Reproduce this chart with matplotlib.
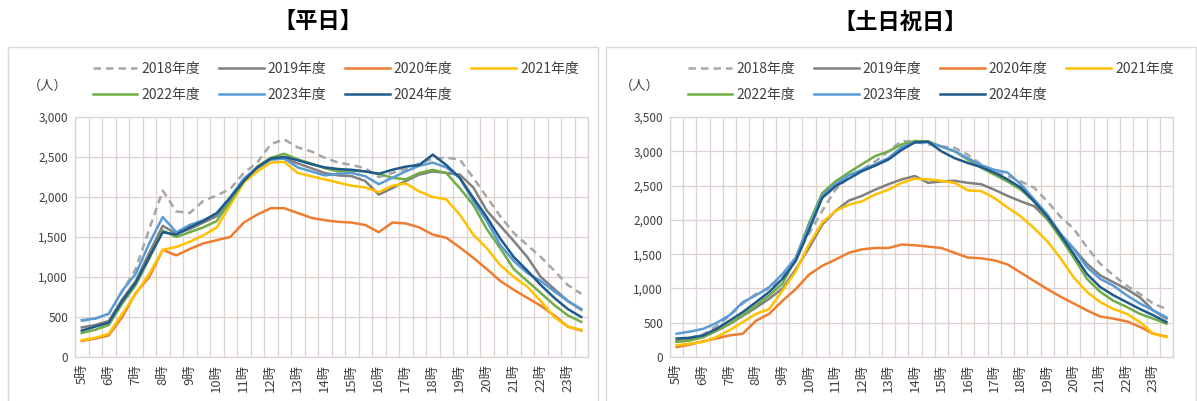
import matplotlib
matplotlib.use("Agg")
import matplotlib.pyplot as plt
from matplotlib.patches import Rectangle
import numpy as np

plt.rcParams['font.family'] = ['Noto Sans CJK JP', 'DejaVu Sans']

# half-hour slots from 5:00 to 23:30
hours = list(range(5, 24))
tick_labels = [str(h) + "時" for h in hours]
years = ["2018年度", "2019年度", "2020年度", "2021年度", "2022年度", "2023年度", "2024年度"]

# weekday (平日)
wd_2018 = [450, 480, 540, 820, 1100, 1600, 2080, 1820, 1800, 1950, 2020, 2100, 2300, 2430, 2660, 2720, 2620, 2570, 2490,
           2430, 2400, 2360, 2250, 2300, 2350, 2420, 2480, 2490, 2470, 2240, 2000, 1760, 1550, 1400, 1250, 1080, 900, 790]
wd_2019 = [370, 400, 450, 720, 950, 1300, 1640, 1540, 1600, 1680, 1760, 1980, 2200, 2360, 2470, 2480, 2420, 2360, 2300,
           2270, 2260, 2200, 2030, 2110, 2200, 2280, 2320, 2300, 2280, 2120, 1830, 1640, 1450, 1250, 1000, 850, 700, 590]
wd_2020 = [200, 230, 270, 500, 800, 1000, 1340, 1270, 1350, 1420, 1460, 1500, 1680, 1780, 1860, 1860, 1800, 1740, 1710,
           1690, 1680, 1650, 1560, 1680, 1670, 1620, 1530, 1490, 1370, 1240, 1100, 950, 840, 740, 640, 520, 380, 330]
wd_2021 = [210, 240, 290, 540, 790, 1040, 1340, 1375, 1440, 1520, 1620, 1900, 2180, 2320, 2430, 2440, 2300, 2260, 2220,
           2180, 2140, 2120, 2060, 2140, 2170, 2070, 2000, 1970, 1780, 1530, 1360, 1150, 1000, 880, 700, 500, 380, 340]
wd_2022 = [300, 340, 400, 670, 900, 1230, 1580, 1500, 1560, 1620, 1700, 1950, 2200, 2380, 2490, 2540, 2470, 2420, 2360,
           2320, 2330, 2320, 2290, 2240, 2220, 2300, 2340, 2300, 2110, 1900, 1600, 1360, 1100, 950, 800, 650, 520, 440]
wd_2023 = [460, 480, 540, 830, 1040, 1420, 1750, 1560, 1650, 1710, 1790, 2000, 2230, 2370, 2470, 2480, 2370, 2320, 2270,
           2290, 2300, 2260, 2160, 2240, 2320, 2390, 2430, 2370, 2240, 1950, 1700, 1400, 1200, 1050, 950, 820, 700, 600]
wd_2024 = [330, 380, 430, 700, 930, 1250, 1560, 1530, 1620, 1700, 1800, 1990, 2200, 2370, 2480, 2500, 2460, 2410, 2370,
           2350, 2340, 2320, 2290, 2340, 2380, 2400, 2530, 2400, 2240, 1990, 1750, 1480, 1250, 1080, 900, 740, 600, 500]

# weekend / holidays (土日祝日)
we_2018 = [250, 280, 330, 450, 600, 780, 920, 1000, 1150, 1450, 1800, 2130, 2440, 2620, 2730, 2850, 3000, 3150, 3140,
           3100, 3070, 3050, 2950, 2810, 2700, 2640, 2560, 2470, 2270, 2045, 1870, 1600, 1360, 1190, 1040, 920, 780, 700]
we_2019 = [230, 250, 290, 380, 480, 600, 720, 850, 1000, 1280, 1590, 1930, 2130, 2280, 2350, 2440, 2520, 2590, 2640,
           2540, 2560, 2570, 2540, 2520, 2440, 2350, 2270, 2200, 2010, 1790, 1580, 1360, 1190, 1090, 990, 870, 680, 560]
we_2020 = [145, 180, 230, 270, 315, 340, 530, 630, 820, 990, 1200, 1330, 1420, 1520, 1570, 1590, 1590, 1640, 1630,
           1610, 1590, 1520, 1450, 1440, 1410, 1350, 1230, 1110, 990, 880, 780, 680, 590, 560, 520, 440, 340, 300]
we_2021 = [170, 195, 220, 290, 390, 510, 630, 700, 970, 1250, 1640, 1960, 2130, 2220, 2270, 2370, 2440, 2540, 2600,
           2590, 2570, 2540, 2430, 2420, 2320, 2180, 2050, 1880, 1690, 1440, 1160, 950, 800, 700, 630, 510, 340, 290]
we_2022 = [220, 240, 290, 390, 485, 610, 750, 900, 1070, 1440, 1950, 2390, 2560, 2690, 2810, 2930, 3000, 3100, 3150,
           3145, 3070, 3000, 2880, 2760, 2660, 2560, 2440, 2270, 2010, 1740, 1450, 1140, 950, 820, 730, 630, 560, 485]
we_2023 = [340, 370, 410, 495, 610, 800, 900, 1020, 1210, 1450, 1900, 2350, 2520, 2650, 2730, 2810, 2900, 3060, 3130,
           3130, 3070, 3000, 2900, 2800, 2730, 2690, 2520, 2300, 2080, 1800, 1580, 1310, 1140, 1040, 900, 780, 680, 580]
we_2024 = [270, 280, 315, 410, 530, 655, 800, 950, 1140, 1400, 1850, 2320, 2490, 2600, 2710, 2790, 2880, 3020, 3130,
           3140, 3000, 2900, 2830, 2770, 2690, 2590, 2470, 2270, 2050, 1780, 1500, 1210, 1020, 900, 800, 700, 610, 510]

colors = ["#a6a6a6", "#808080", "#ed7d31", "#ffc000", "#70ad47", "#5b9bd5", "#1f5a8c"]
styles = [(0, (3, 2)), "-", "-", "-", "-", "-", "-"]
grid_c = "#dcd3ce"

fig = plt.figure(figsize=(11.97, 4.01), dpi=100)
W, H = 1197.0, 401.0


def px_axes(x0, x1, ytop, ybot):
    return fig.add_axes([x0 / W, (H - ybot) / H, (x1 - x0) / W, (ybot - ytop) / H])


# chart frames
for fx0, fx1 in [(8, 598), (606, 1196)]:
    fig.patches.append(Rectangle((fx0 / W, -0.05), (fx1 - fx0) / W, (H - 47) / H + 0.05,
                                 transform=fig.transFigure, fill=False, edgecolor="#d9d9d9", lw=1))

panels = [
    ("【平日】", 318, (75, 588), 3000, [wd_2018, wd_2019, wd_2020, wd_2021, wd_2022, wd_2023, wd_2024], 48),
    ("【土日祝日】", 900, (670, 1173), 3500, [we_2018, we_2019, we_2020, we_2021, we_2022, we_2023, we_2024], 640),
]

for title, tx, (x0, x1), ymax, series, unit_x in panels:
    ax = px_axes(x0, x1, 117, 357)
    n = len(series[0])
    xs = np.arange(n)
    handles = []
    for vals, c, ls, lab in zip(series, colors, styles, years):
        h, = ax.plot(xs, vals, color=c, ls=ls, lw=1.8, label=lab)
        handles.append(h)

    ax.set_xlim(-0.5, n - 0.5)
    ax.set_ylim(0, ymax)
    ax.set_yticks(np.arange(0, ymax + 1, 500))
    ax.set_yticklabels(["{:,}".format(v) for v in range(0, ymax + 1, 500)], fontsize=8.5, color="#404040")
    ax.set_xticks(np.arange(0, n, 2))
    ax.set_xticklabels(tick_labels, rotation=90, fontsize=9.5, color="#404040")
    ax.set_xticks(np.arange(-0.5, n, 1), minor=True)
    ax.tick_params(which="both", length=0, pad=5)
    ax.grid(which="minor", axis="x", color=grid_c, lw=0.9)
    ax.grid(which="major", axis="y", color=grid_c, lw=0.9)
    ax.set_axisbelow(True)
    for s in ax.spines.values():
        s.set_color(grid_c)
        s.set_linewidth(0.9)

    # legend in row order: 4 on first row, 3 on second
    order = [0, 4, 1, 5, 2, 6, 3]
    leg = fig.legend([handles[i] for i in order], [years[i] for i in order], ncol=4,
                     loc="upper left", bbox_to_anchor=((x0 + 18) / W, (H - 62) / H),
                     frameon=False, fontsize=10, handlelength=3.2, handletextpad=0.3,
                     columnspacing=1.35, labelspacing=0.85, borderpad=0, borderaxespad=0)
    for t in leg.get_texts():
        t.set_color("#404040")

    fig.text(unit_x / W, (H - 86) / H, "（人）", fontsize=9.5, color="#404040", ha="center", va="center")
    fig.text(tx / W, (H - 22) / H, title, fontsize=16, fontweight="bold", ha="center", va="center")

fig.savefig("out.png", dpi=100)
